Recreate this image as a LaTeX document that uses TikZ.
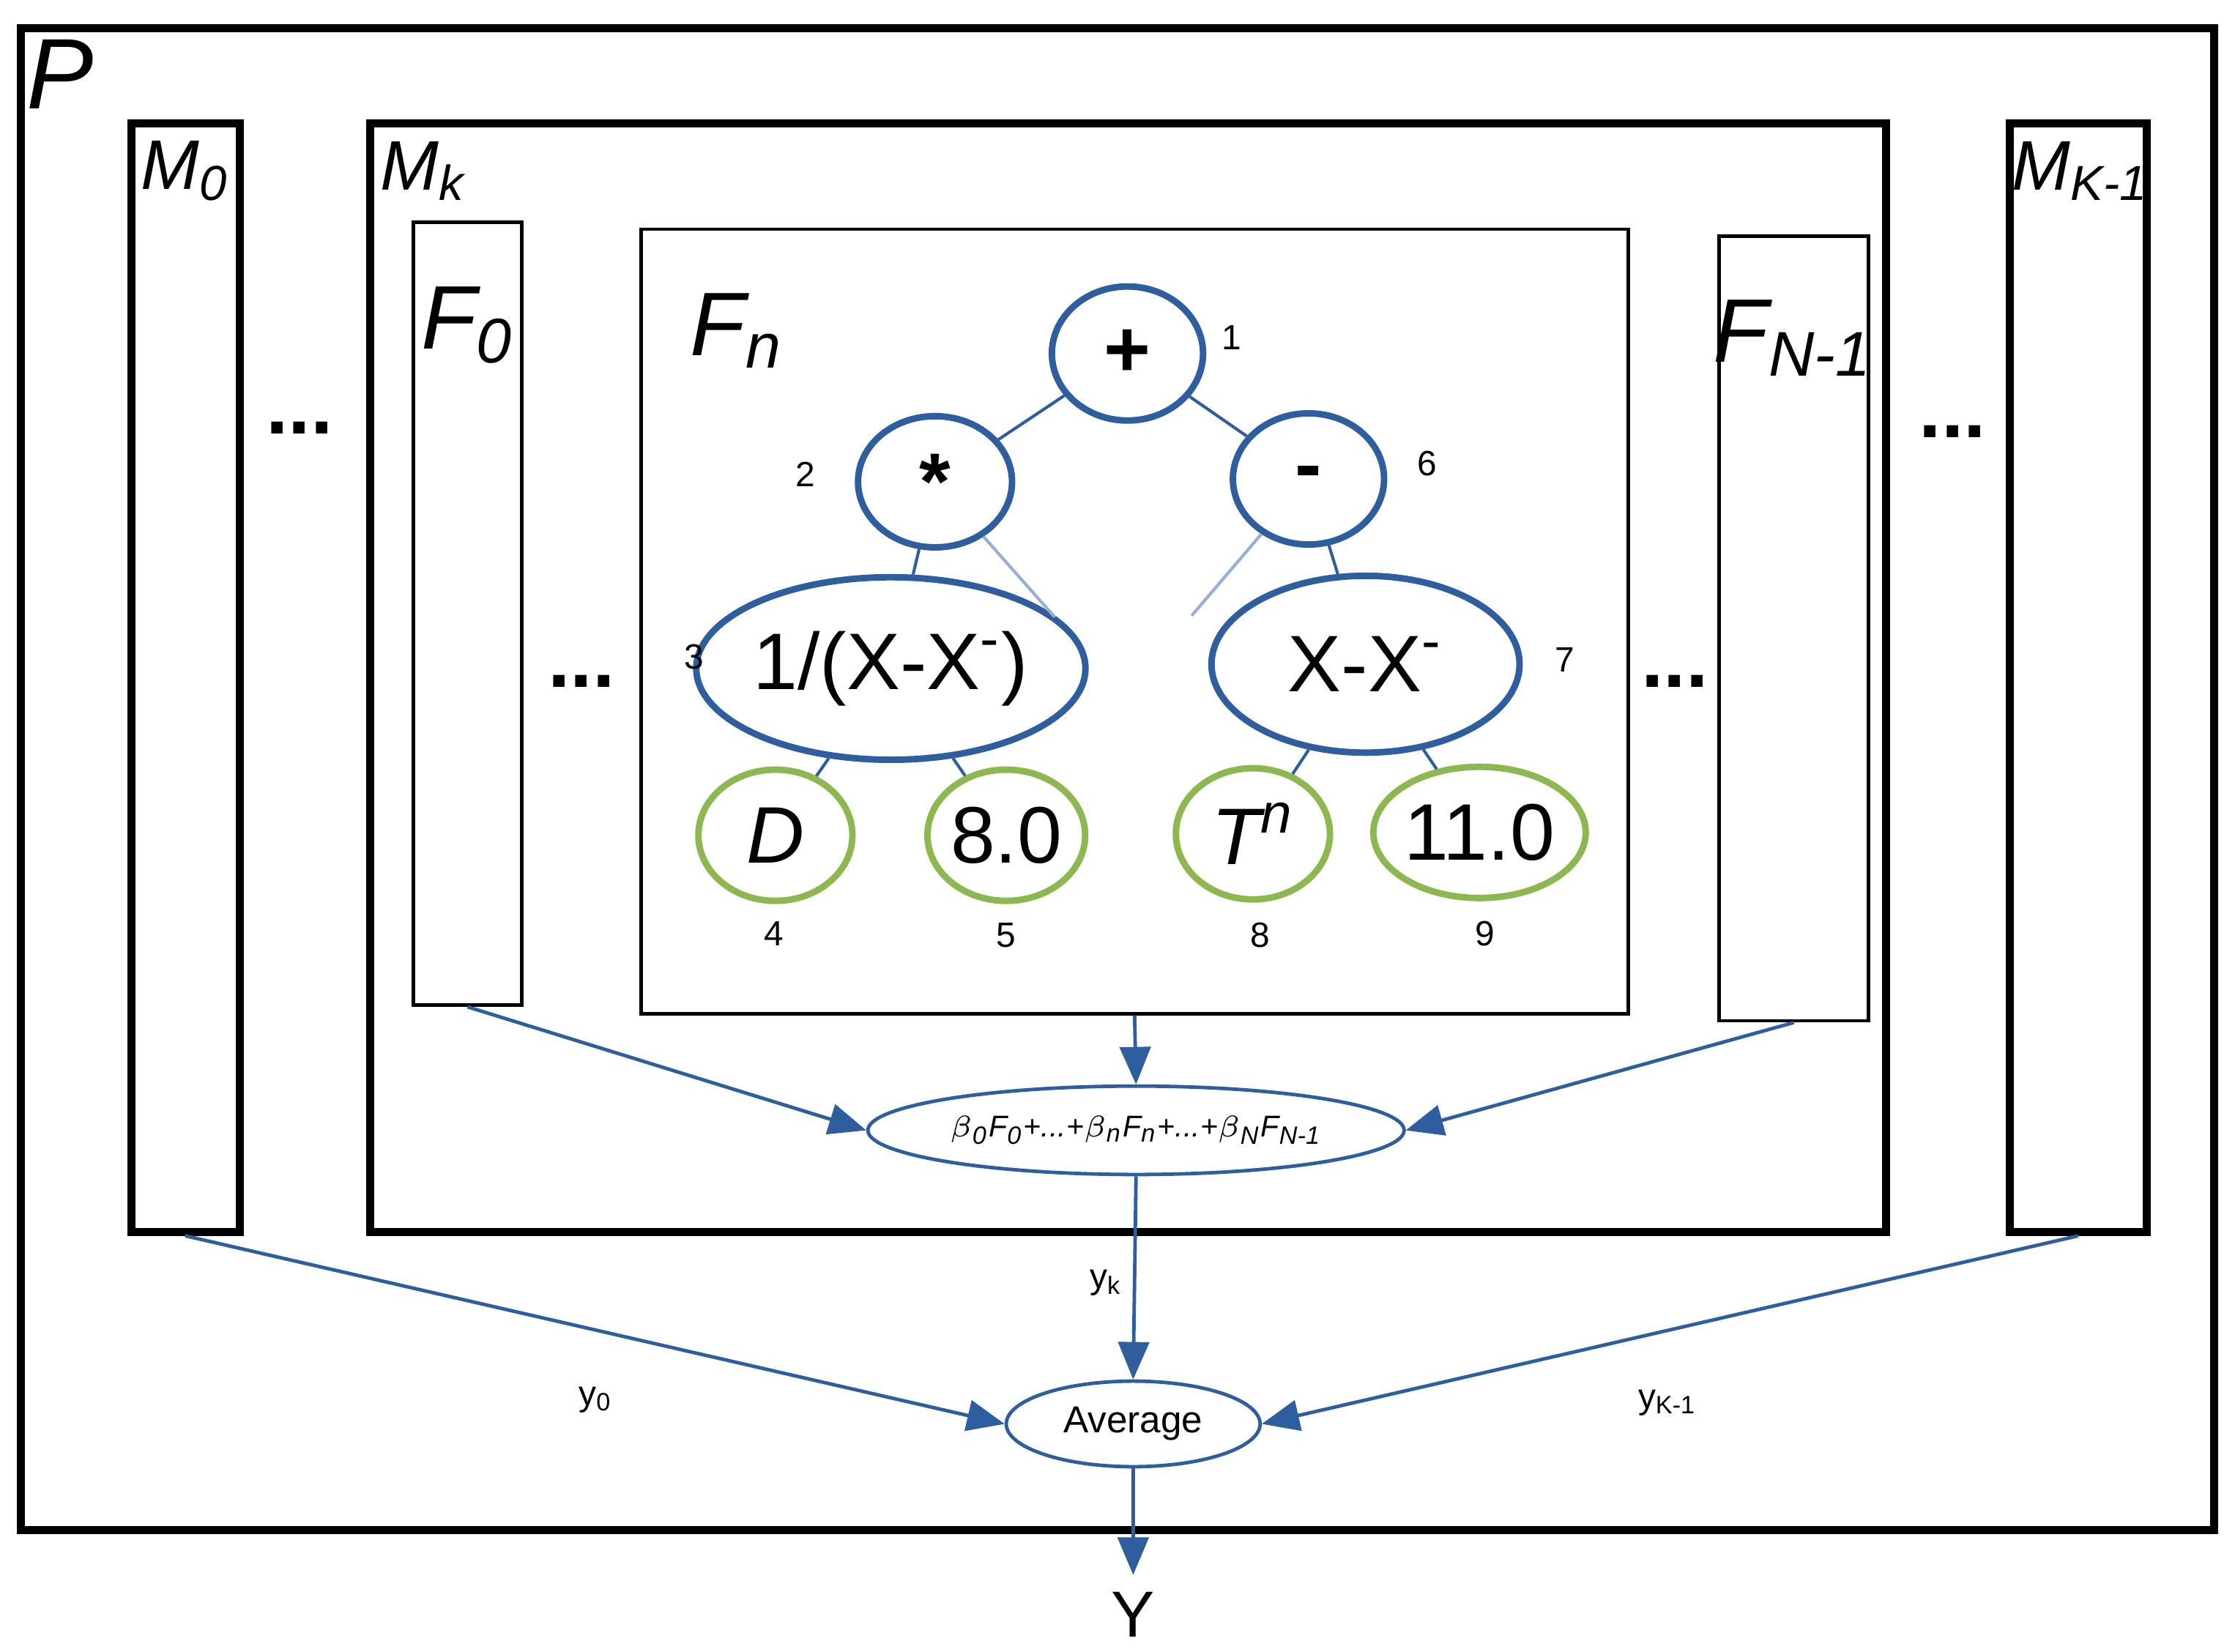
\documentclass[tikz,border=0pt]{standalone}
\usepackage{fontspec}
\setmainfont{Liberation Sans}
\usetikzlibrary{shapes.geometric, arrows, positioning}
\definecolor{treeblue}{RGB}{46,94,158}
\definecolor{leafgreen}{RGB}{141,184,81}
\tikzstyle{box} = [rectangle, draw=black, line width=1.6pt, inner sep=0pt]
\tikzstyle{fbox} = [rectangle, draw=black, line width=0.7pt, inner sep=0pt]
\tikzstyle{op} = [ellipse, draw=treeblue, line width=1.3pt, inner sep=0pt, font=\fontsize{16}{16}\selectfont]
\tikzstyle{leaf} = [ellipse, draw=leafgreen, line width=1.3pt, inner sep=0pt, minimum width=1.08cm, minimum height=0.92cm, font=\fontsize{16}{16}\selectfont]
\tikzstyle{num} = [font=\fontsize{7}{7}\selectfont]
\tikzstyle{lbl} = [font=\fontsize{14}{14}\selectfont\itshape]
\tikzstyle{dots} = [font=\fontsize{16}{16}\selectfont\bfseries]
\tikzstyle{link} = [draw=treeblue, line width=0.6pt]
\tikzstyle{arrow} = [draw=treeblue, line width=0.7pt, -triangle 45]
\begin{document}
\begin{tikzpicture}[x=0.01cm, y=-0.01cm]
\useasboundingbox (0,0) rectangle (1568,1159);

% --- Outer boxes ---
\node (P) [box, minimum width=15.38cm, minimum height=10.53cm] at (784,546.5) {};
\node [lbl, font=\fontsize{20}{20}\selectfont\itshape] at (42,52) {P};
\node (M0) [box, minimum width=0.76cm, minimum height=7.77cm] at (130,475.5) {};
\node (Mk) [box, minimum width=10.63cm, minimum height=7.77cm] at (791.5,475.5) {};
\node (MK) [box, minimum width=0.96cm, minimum height=7.77cm] at (1458,475.5) {};
\node [lbl] at (130,120) {M\textsubscript{0}};
\node [lbl] at (297,120) {M\textsubscript{k}};
\node [lbl] at (1460,120) {M\textsubscript{K-1}};
\node [dots] at (210,300) {...};
\node [dots] at (1370,303) {...};

% --- Forests ---
\node (F0) [fbox, minimum width=0.76cm, minimum height=5.49cm] at (328,430.5) {};
\node (Fn) [fbox, minimum width=6.92cm, minimum height=5.5cm] at (796,436) {};
\node (FN) [fbox, minimum width=1.05cm, minimum height=5.5cm] at (1258.5,441) {};
\node [lbl, font=\fontsize{18}{18}\selectfont\itshape] at (328,228) {F\textsubscript{0}};
\node [lbl, font=\fontsize{18}{18}\selectfont\itshape] at (517,232) {F\textsubscript{n}};
\node [lbl, font=\fontsize{18}{18}\selectfont\itshape] at (1258,237) {F\textsubscript{N-1}};
\node [dots] at (408,478) {...};
\node [dots] at (1175,478) {...};

% --- Tree ---
\node (plus) [op, minimum width=1.06cm, minimum height=0.94cm] at (791,248) {\textbf{+}};
\node (mul) [op, minimum width=1.08cm, minimum height=0.92cm] at (656,338) {\textbf{*}};
\node (minus) [op, minimum width=1.06cm, minimum height=0.92cm] at (918,336) {\textbf{-}};
\node (inv) [op, minimum width=2.04cm, minimum height=1.28cm] at (625,469) {1/(X-X\textsuperscript{-})};
\node (diff) [op, minimum width=2.16cm, minimum height=1.24cm] at (958,466) {X-X\textsuperscript{-}};
\node (D) [leaf] at (544,586) {\textit{D}};
\node (c8) [leaf] at (706,586) {8.0};
\node (T) [leaf] at (879,585) {\textit{T\textsuperscript{n}}};
\node (c11) [leaf] at (1038,584) {11.0};
\node [num] at (864,237) {1};
\node [num] at (565,333) {2};
\node [num] at (487,461) {3};
\node [num] at (543,655) {4};
\node [num] at (706,656) {5};
\node [num] at (1001,325) {6};
\node [num] at (1098,463) {7};
\node [num] at (884,656) {8};
\node [num] at (1042,655) {9};
\coordinate (stubL) at (740,433);
\coordinate (stubR) at (836,432);

\draw [link] (plus) -- (mul);
\draw [link] (plus) -- (minus);
\draw [link] (mul) -- (inv);
\draw [link] (minus) -- (diff);
\draw [link, draw=treeblue!50] (mul) -- (stubL);
\draw [link, draw=treeblue!50] (minus) -- (stubR);
\draw [link] (inv) -- (D);
\draw [link] (inv) -- (c8);
\draw [link] (diff) -- (T);
\draw [link] (diff) -- (c11);

% --- Combination ---
\node (sum) [ellipse, draw=treeblue, line width=0.7pt, inner sep=0pt, minimum width=3.76cm, minimum height=0.62cm, font=\fontsize{6}{6}\selectfont\itshape] at (797,793) {$\beta$\textsubscript{0}F\textsubscript{0}+...+$\beta$\textsubscript{n}F\textsubscript{n}+...+$\beta$\textsubscript{N}F\textsubscript{N-1}};
\node (avg) [ellipse, draw=treeblue, line width=0.7pt, inner sep=0pt, minimum width=1.78cm, minimum height=0.6cm, font=\fontsize{7.5}{7.5}\selectfont] at (795,999) {Average};
\node (Y) [font=\fontsize{13}{13}\selectfont] at (795,1133) {Y};

\draw [arrow] (F0.south) -- (sum.west);
\draw [arrow] (Fn.south) -- (sum.north);
\draw [arrow] (FN.south) -- (sum.east);
\draw [arrow] (sum.south) -- (avg.north);
\draw [arrow] (M0.south) -- (avg.west);
\draw [arrow] (MK.south) -- (avg.east);
\draw [arrow] (avg.south) -- (Y.north);
\node [num] at (776,900) {y\textsubscript{k}};
\node [num] at (418,982) {y\textsubscript{0}};
\node [num] at (1170,984) {y\textsubscript{K-1}};

\end{tikzpicture}
\end{document}
